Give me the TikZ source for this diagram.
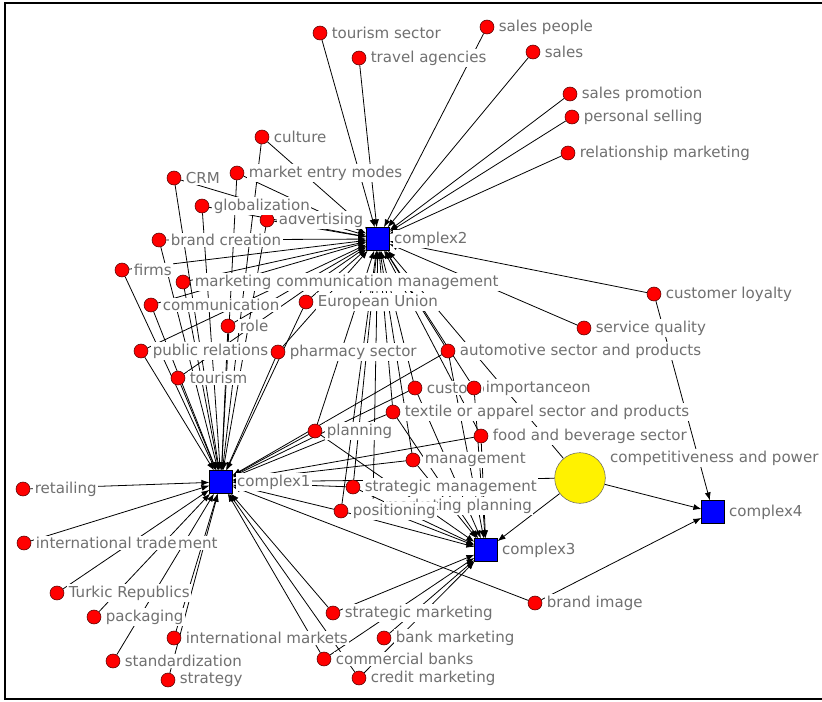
\documentclass[tikz,border=0pt]{standalone}
\usepackage{fontspec}
\setmainfont{DejaVu Sans}
\usetikzlibrary{arrows.meta,backgrounds}

\definecolor{lblgray}{RGB}{112,112,112}
\newcommand{\lblfont}{\fontsize{11.3}{13}\selectfont}

\tikzset{every picture/.style={line width=0.75pt}}
\tikzset{
  term/.style={circle, fill=red, draw=black!70!red, line width=0.4pt, minimum size=10.5pt, inner sep=0pt},
  hiddenterm/.style={circle, minimum size=10.5pt, inner sep=0pt},
  complexbox/.style={rectangle, fill=blue, draw=black, line width=0.4pt, minimum size=17pt, inner sep=0pt},
  bigdot/.style={circle, fill=yellow, draw=black!60, line width=0.4pt, minimum size=38pt, inner sep=0pt},
  lbl/.style={fill=white, inner sep=1pt, text=lblgray, font=\lblfont},
  every label/.style={lbl},
  label distance=2pt,
  link/.style={line width=0.6pt, -{Latex[length=6pt,width=4.5pt]}},
}

\begin{document}
\begin{tikzpicture}[x=0.75pt,y=0.75pt,yscale=-1,xscale=1]
\useasboundingbox (0,0) rectangle (822,701);

%Frame
\draw [line width=1.5pt] (822,3) -- (5,3) -- (5,699) -- (822,699);

%Terms above complex2
\node [term, label=right:tourism sector] (tsec) at (320,33) {};
\node [term, label=right:travel agencies] (trav) at (359,58) {};
\node [term, label=right:sales people] (spep) at (487,27) {};
\node [term, label=right:sales] (sale) at (533,52) {};
\node [term, label=right:sales promotion] (sprm) at (570,94) {};
\node [term, label=right:personal selling] (psel) at (572,117) {};
\node [term, label=right:relationship marketing] (rmkt) at (568,153) {};

%Terms between complex1 and complex2
\node [term, label=right:culture] (cult) at (262,137) {};
\node [term, label=right:CRM] (crm) at (174,178) {};
\node [term, label=right:market entry modes] (mem) at (237,173) {};
\node [term, label=right:advertising] (adv) at (267,220) {};
\node [term, label=right:globalization] (glob) at (202,206) {};
\node [term, label=right:brand creation] (brcr) at (159,240) {};
\node [term, label=right:firms] (firm) at (122,270) {};
\node [term, label=right:marketing communication management] (mcm) at (183,282) {};
\node [term, label=right:communication] (comm) at (151,305) {};
\node [term, label=right:European Union] (eu) at (306,302) {};
\node [term, label=right:role] (role) at (228,326) {};
\node [term, label=right:public relations] (pr) at (141,351) {};
\node [term, label=right:pharmacy sector] (phar) at (278,352) {};
\node [term, label=right:tourism] (tour) at (178,378) {};

%Terms in the middle
\node [term, label=right:customer loyalty] (cloy) at (654,294) {};
\node [term, label=right:service quality] (squa) at (584,328) {};
\node [term, label=right:automotive sector and products] (auto) at (448,351) {};
\node [term, label=right:customer] (cust) at (415,388) {};
\node [term, label=right:importanceon] (imp) at (474,388) {};
\node [term, label=right:textile or apparel sector and products] (text) at (393,412) {};
\node [term, label=right:planning] (plan) at (315,431) {};
\node [term, label=right:food and beverage sector] (food) at (481,436) {};
\node [term, label=right:management] (mgmt) at (413,460) {};
\node [hiddenterm, label=right:marketing planning] (mplan) at (373,506) {};
\node [term, label=right:strategic management] (smgt) at (353,487) {};
\node [term, label=right:positioning] (posi) at (341,511) {};

%Terms below
\node [term, label=right:retailing] (reta) at (23,489) {};
\node [lbl, anchor=west] (ement) at (167,543) {ement};
\node [term, label=right:international trade] (itra) at (24,543) {};
\node [term, label=right:Turkic Republics] (turk) at (57,593) {};
\node [term, label=right:packaging] (pack) at (94,617) {};
\node [term, label=right:international markets] (imkt) at (174,638) {};
\node [term, label=right:standardization] (stdz) at (113,661) {};
\node [term, label=right:strategy] (stra) at (168,680) {};
\node [term, label=right:strategic marketing] (smkt) at (333,613) {};
\node [term, label=right:bank marketing] (bank) at (384,638) {};
\node [term, label=right:commercial banks] (cbnk) at (324,659) {};
\node [term, label=right:credit marketing] (cred) at (359,678) {};
\node [term, label=right:brand image] (bimg) at (535,603) {};

%Hubs
\node [bigdot, label={[yshift=15pt]right:competitiveness and power}] (yel) at (580,478) {};
\node [complexbox, label=right:complex1] (c1) at (221,482) {};
\node [complexbox, label=right:complex2] (c2) at (378,239) {};
\node [complexbox, label=right:complex3] (c3) at (486,550) {};
\node [complexbox, label=right:complex4] (c4) at (713,512) {};

\begin{pgfonlayer}{background}
%Links to complex2
\draw [link] (tsec) -- (c2);
\draw [link] (trav) -- (c2);
\draw [link] (spep) -- (c2);
\draw [link] (sale) -- (c2);
\draw [link] (sprm) -- (c2);
\draw [link] (psel) -- (c2);
\draw [link] (rmkt) -- (c2);
\draw [link] (cult) -- (c2);
\draw [link] (crm) -- (c2);
\draw [link] (mem) -- (c2);
\draw [link] (adv) -- (c2);
\draw [link] (glob) -- (c2);
\draw [link] (brcr) -- (c2);
\draw [link] (firm) -- (c2);
\draw [link] (mcm) -- (c2);
\draw [link] (comm) -- (c2);
\draw [link] (eu) -- (c2);
\draw [link] (role) -- (c2);
\draw [link] (pr) -- (c2);
\draw [link] (phar) -- (c2);
\draw [link] (tour) -- (c2);
\draw [link] (cloy) -- (c2);
\draw [link] (squa) -- (c2);
\draw [link] (auto) -- (c2);
\draw [link] (cust) -- (c2);
\draw [link] (imp) -- (c2);
\draw [link] (text) -- (c2);
\draw [link] (plan) -- (c2);
\draw [link] (food) -- (c2);
\draw [link] (mgmt) -- (c2);
\draw [link] (mplan) -- (c2);
\draw [link] (smgt) -- (c2);
\draw [link] (posi) -- (c2);
\draw [link] (yel) -- (c2);
%Links to complex1
\draw [link] (cult) -- (c1);
\draw [link] (crm) -- (c1);
\draw [link] (mem) -- (c1);
\draw [link] (adv) -- (c1);
\draw [link] (glob) -- (c1);
\draw [link] (brcr) -- (c1);
\draw [link] (firm) -- (c1);
\draw [link] (mcm) -- (c1);
\draw [link] (comm) -- (c1);
\draw [link] (eu) -- (c1);
\draw [link] (role) -- (c1);
\draw [link] (pr) -- (c1);
\draw [link] (phar) -- (c1);
\draw [link] (tour) -- (c1);
\draw [link] (auto) -- (c1);
\draw [link] (cust) -- (c1);
\draw [link] (text) -- (c1);
\draw [link] (plan) -- (c1);
\draw [link] (food) -- (c1);
\draw [link] (mgmt) -- (c1);
\draw [link] (smgt) -- (c1);
\draw [link] (posi) -- (c1);
\draw [link] (yel) -- (c1);
\draw [link] (reta) -- (c1);
\draw [link] (itra) -- (c1);
\draw [link] (turk) -- (c1);
\draw [link] (pack) -- (c1);
\draw [link] (imkt) -- (c1);
\draw [link] (stdz) -- (c1);
\draw [link] (stra) -- (c1);
\draw [link] (smkt) -- (c1);
\draw [link] (cbnk) -- (c1);
\draw [link] (cred) -- (c1);
\draw [link] (bimg) -- (c1);
%Links to complex3
\draw [link] (auto) -- (c3);
\draw [link] (cust) -- (c3);
\draw [link] (imp) -- (c3);
\draw [link] (text) -- (c3);
\draw [link] (plan) -- (c3);
\draw [link] (food) -- (c3);
\draw [link] (mgmt) -- (c3);
\draw [link] (mplan) -- (c3);
\draw [link] (smgt) -- (c3);
\draw [link] (posi) -- (c3);
\draw [link] (yel) -- (c3);
\draw [link] (smkt) -- (c3);
\draw [link] (bank) -- (c3);
\draw [link] (cbnk) -- (c3);
\draw [link] (cred) -- (c3);
%Links to complex4
\draw [link] (cloy) -- (c4);
\draw [link] (yel) -- (c4);
\draw [link] (bimg) -- (c4);
\end{pgfonlayer}

\end{tikzpicture}
\end{document}
